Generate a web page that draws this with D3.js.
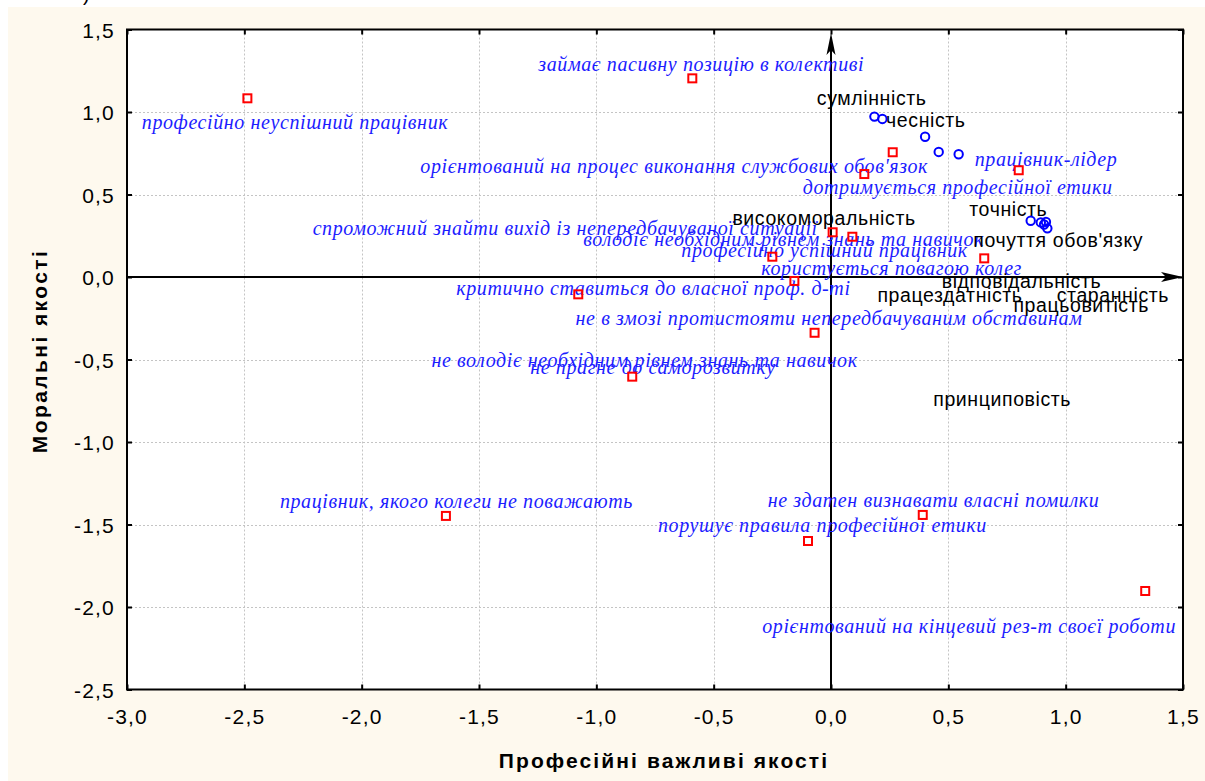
<!DOCTYPE html>
<html>
<head>
<meta charset="utf-8">
<script src="https://cdn.jsdelivr.net/npm/d3@7"></script>
<style>
  html, body { margin: 0; padding: 0; background: #ffffff; }
  svg { display: block; }
</style>
</head>
<body>
<svg id="chart" width="1205" height="781"></svg>
<script>
// ---------------- DATA ----------------
const xTicks = [-3.0, -2.5, -2.0, -1.5, -1.0, -0.5, 0.0, 0.5, 1.0, 1.5];
const yTicks = [-2.5, -2.0, -1.5, -1.0, -0.5, 0.0, 0.5, 1.0, 1.5];
const xTitle = "Професійні важливі якості";
const yTitle = "Моральні якості";

// moral qualities (blue circles)
const moralLabels = ["сумлінність", "чесність", "високоморальність", "відповідальність", "принциповість",
                     "точність", "працездатність", "почуття обов'язку", "старанність", "працьовитість"];
const moralX = [0.185, 0.219, 0.401, 0.459, 0.544, 0.851, 0.894, 0.916, 0.922, 0.908];
const moralY = [0.972, 0.958, 0.850, 0.758, 0.744, 0.341, 0.331, 0.334, 0.295, 0.318];

// professional characteristics (red squares)
const profLabels = [
  "професійно неуспішний працівник",
  "займає пасивну позицію в колективі",
  "дотримується професійної етики",
  "орієнтований на процес виконання службових обов'язок",
  "працівник-лідер",
  "спроможний знайти вихід із непередбачуваної ситуації",
  "володіє необхідним рівнем знань та навичок",
  "професійно успішний працівник",
  "користується повагою колег",
  "не володіє необхідним рівнем знань та навичок",
  "критично ставиться до власної проф. д-ті",
  "не в змозі протистояти непередбачуваним обставинам",
  "не прагне до саморозвитку",
  "працівник, якого колеги не поважають",
  "не здатен визнавати власні помилки",
  "порушує правила професійної етики",
  "орієнтований на кінцевий рез-т своєї роботи"
];
const profX = [-2.487, -0.591, 0.263, 0.142, 0.800, 0.007, 0.091, -0.250, 0.653, -0.156, -1.077, -0.070, -0.847, -1.641, 0.391, -0.098, 1.339];
const profY = [1.083, 1.204, 0.756, 0.624, 0.647, 0.271, 0.244, 0.123, 0.113, -0.024, -0.105, -0.338, -0.604, -1.448, -1.442, -1.600, -1.903];

// ---------------- LAYOUT (label offsets in px, relative to the marker) ----------------
const moralOffsets = [[-57.6, -11.7], [3.7, 7.7], [-192.7, 88.3], [3, 136], [-25.4, 251.4],
                      [-61.4, -5], [-163.4, 79.4], [-72.7, 25.6], [9.4, 73.4], [-30.7, 87.7]];
const profOffsets = [[-105.6, 31], [-154, -7], [-90, 42], [-444, -1], [-44, -4], [-520, 3], [-269, 9],
                     [-91, 0], [-223, 17], [-363, 86], [-122, 1], [-239, -8], [-102, -3], [-166, -8],
                     [-155, -8], [-150, -9], [-383, 42]];

// ---------------- CHART ----------------
const W = 1205, H = 781;
const plot = { left: 127, right: 1183, top: 29.5, bottom: 689.5 };
const svg = d3.select("#chart");

const x = d3.scaleLinear().domain([-3, 1.5]).range([plot.left, plot.right]);
const y = d3.scaleLinear().domain([-2.5, 1.5]).range([plot.bottom, plot.top]);

const locale = d3.formatLocale({ decimal: ",", thousands: " ", grouping: [3], currency: ["", ""], minus: "-" });
const fmt = locale.format(".1f");

// backgrounds
svg.append("rect").attr("x", 0).attr("y", 0).attr("width", W).attr("height", H).attr("fill", "#ffffff");
svg.append("rect").attr("x", 8).attr("y", 7).attr("width", W - 8).attr("height", H - 7).attr("fill", "#fef9ee");
svg.append("rect").attr("x", plot.left).attr("y", plot.top)
  .attr("width", plot.right - plot.left).attr("height", plot.bottom - plot.top).attr("fill", "#ffffff");

// fragment of a caption cut off at the top
svg.append("text").attr("x", 83).attr("y", 1).attr("font-family", "Liberation Sans, Arial, sans-serif")
  .attr("font-size", 20).attr("fill", "#000").text(")");

// grid
const grid = svg.append("g").attr("stroke", "#c4c4c4").attr("stroke-width", 1).attr("stroke-dasharray", "2,2");
grid.selectAll("line.gx").data(xTicks.filter(t => t > -3 && t < 1.5)).enter().append("line")
  .attr("x1", d => Math.round(x(d)) + 0.5).attr("x2", d => Math.round(x(d)) + 0.5)
  .attr("y1", plot.top).attr("y2", plot.bottom);
grid.selectAll("line.gy").data(yTicks.filter(t => t > -2.5 && t < 1.5)).enter().append("line")
  .attr("y1", d => Math.round(y(d)) + 0.5).attr("y2", d => Math.round(y(d)) + 0.5)
  .attr("x1", plot.left).attr("x2", plot.right);

// axes (ticks inward)
const tickFont = "Liberation Sans, Arial, sans-serif";
function styleAxis(g, showText) {
  g.select(".domain").remove();
  g.selectAll(".tick line").attr("stroke", "#000").attr("stroke-width", 2);
  g.selectAll(".tick text").attr("font-family", tickFont).attr("font-size", 21)
    .attr("letter-spacing", "1.2px").attr("fill", "#000");
  if (!showText) g.selectAll(".tick text").remove();
}
svg.append("g").attr("transform", `translate(${plot.left},0)`)
  .call(d3.axisLeft(y).tickValues(yTicks).tickFormat(fmt).tickSizeInner(-5).tickSizeOuter(0).tickPadding(12))
  .call(g => styleAxis(g, true))
  .call(g => g.selectAll(".tick text").attr("dy", "0.36em"));
svg.append("g").attr("transform", `translate(0,${plot.bottom})`)
  .call(d3.axisBottom(x).tickValues(xTicks).tickFormat(fmt).tickSizeInner(-5).tickSizeOuter(0).tickPadding(20))
  .call(g => styleAxis(g, true));
svg.append("g").attr("transform", `translate(${plot.right},0)`)
  .call(d3.axisRight(y).tickValues(yTicks).tickSizeInner(-5).tickSizeOuter(0))
  .call(g => styleAxis(g, false));
svg.append("g").attr("transform", `translate(0,${plot.top})`)
  .call(d3.axisTop(x).tickValues(xTicks).tickSizeInner(-5).tickSizeOuter(0))
  .call(g => styleAxis(g, false));

// frame
svg.append("rect").attr("x", plot.left).attr("y", plot.top)
  .attr("width", plot.right - plot.left).attr("height", plot.bottom - plot.top)
  .attr("fill", "none").attr("stroke", "#000").attr("stroke-width", 2);

// zero axes with arrows
const x0 = x(0), y0 = y(0);
const upTip = plot.top + 3.5, rightTip = plot.right;
svg.append("line").attr("x1", x0).attr("x2", x0).attr("y1", plot.bottom).attr("y2", upTip + 8)
  .attr("stroke", "#000").attr("stroke-width", 2);
svg.append("path")
  .attr("d", `M${x0},${upTip} L${x0 + 4.5},${upTip + 22} L${x0},${upTip + 17} L${x0 - 4.5},${upTip + 22} Z`)
  .attr("fill", "#000");
svg.append("line").attr("x1", plot.left).attr("x2", rightTip - 8).attr("y1", y0).attr("y2", y0)
  .attr("stroke", "#000").attr("stroke-width", 2);
svg.append("path")
  .attr("d", `M${rightTip},${y0} L${rightTip - 22},${y0 - 5} L${rightTip - 17},${y0} L${rightTip - 22},${y0 + 5} Z`)
  .attr("fill", "#000");

// axis titles
svg.append("text").attr("x", 664).attr("y", 768).attr("text-anchor", "middle")
  .attr("font-family", tickFont).attr("font-weight", "bold").attr("font-size", 21)
  .attr("letter-spacing", "2.1px").attr("fill", "#000").text(xTitle);
svg.append("text").attr("transform", "translate(47,351) rotate(-90)").attr("text-anchor", "middle")
  .attr("font-family", tickFont).attr("font-weight", "bold").attr("font-size", 21)
  .attr("letter-spacing", "2.4px").attr("fill", "#000").text(yTitle);

// data
const moral = moralLabels.map((l, i) => ({ label: l, x: moralX[i], y: moralY[i], off: moralOffsets[i] }));
const prof = profLabels.map((l, i) => ({ label: l, x: profX[i], y: profY[i], off: profOffsets[i] }));

// labels
svg.append("g").selectAll("text").data(prof).enter().append("text")
  .attr("x", d => x(d.x) + d.off[0]).attr("y", d => y(d.y) + d.off[1])
  .attr("font-family", "Liberation Serif, 'Times New Roman', serif").attr("font-style", "italic")
  .attr("font-size", 20).attr("letter-spacing", "0.6px").attr("fill", "#1c1cff")
  .text(d => d.label);
svg.append("g").selectAll("text").data(moral).enter().append("text")
  .attr("x", d => x(d.x) + d.off[0]).attr("y", d => y(d.y) + d.off[1])
  .attr("font-family", tickFont).attr("font-size", 19.5).attr("letter-spacing", "0.6px").attr("fill", "#000")
  .text(d => d.label);

// markers
svg.append("g").selectAll("rect").data(prof).enter().append("rect")
  .attr("x", d => x(d.x) - 4).attr("y", d => y(d.y) - 4).attr("width", 8).attr("height", 8)
  .attr("fill", "none").attr("stroke", "#ff0000").attr("stroke-width", 2);
svg.append("g").selectAll("circle").data(moral).enter().append("circle")
  .attr("cx", d => x(d.x)).attr("cy", d => y(d.y)).attr("r", 4.2)
  .attr("fill", "none").attr("stroke", "#0000ff").attr("stroke-width", 2);
</script>
</body>
</html>
